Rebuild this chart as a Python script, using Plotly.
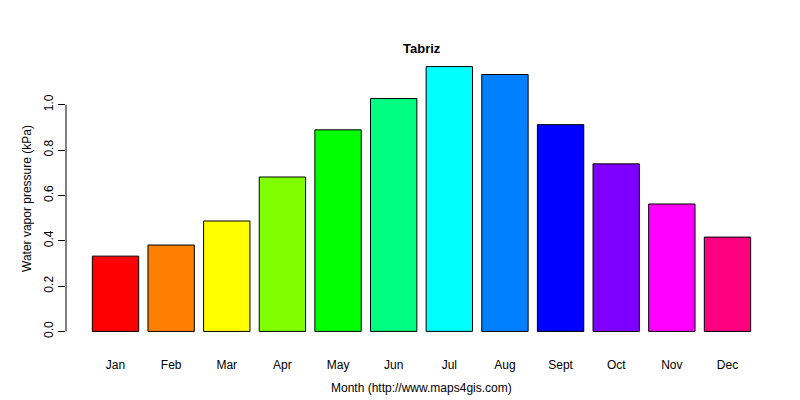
import plotly.graph_objects as go

months = ['Jan', 'Feb', 'Mar', 'Apr', 'May', 'Jun', 'Jul', 'Aug', 'Sept', 'Oct', 'Nov', 'Dec']
pressure = [0.332, 0.381, 0.487, 0.681, 0.889, 1.027, 1.168, 1.133, 0.912, 0.739, 0.562, 0.416]
colors = ['#FF0000', '#FF8000', '#FFFF00', '#80FF00', '#00FF00', '#00FF80',
          '#00FFFF', '#0080FF', '#0000FF', '#8000FF', '#FF00FF', '#FF0080']
yticks = [0.0, 0.2, 0.4, 0.6, 0.8, 1.0]

# R barplot style positions: width 1, space 0.2
xpos = [0.7 + 1.2 * i for i in range(len(months))]

fig = go.Figure(go.Bar(
    x=xpos, y=pressure, width=1.0,
    marker=dict(color=colors, line=dict(color='black', width=1)),
))

fig.update_layout(
    width=800, height=400,
    paper_bgcolor='white', plot_bgcolor='white',
    margin=dict(l=58, r=31, t=48, b=66),
    showlegend=False,
    font=dict(family='Liberation Sans, Arial', size=12, color='black'),
    xaxis=dict(range=[-0.368, 14.968], tickvals=xpos, ticktext=months,
               showgrid=False, zeroline=False, showline=False, ticks='',
               ticklabelstandoff=14),
    yaxis=dict(range=[-0.0467, 1.2147], tickvals=yticks,
               ticktext=['0.0', '0.2', '0.4', '0.6', '0.8', '1.0'],
               tickangle=-90, showgrid=False, zeroline=False, showline=False,
               ticks='outside', ticklen=7, tickcolor='black'),
    shapes=[dict(type='line', xref='paper', yref='y', x0=0, x1=0, y0=0, y1=1.0,
                 line=dict(color='black', width=1))],
    annotations=[
        dict(text='<b>Tabriz</b>', xref='paper', yref='paper', x=0.5, y=1,
             yshift=17, showarrow=False, font=dict(size=13)),
        dict(text='Month (http://www.maps4gis.com)', xref='paper', yref='paper',
             x=0.5, y=0, yshift=-55, showarrow=False),
        dict(text='Water vapor pressure (kPa)', xref='paper', yref='paper',
             x=0, y=0.5, xshift=-48, textangle=-90, showarrow=False),
    ],
)

fig.write_html('out.html')
